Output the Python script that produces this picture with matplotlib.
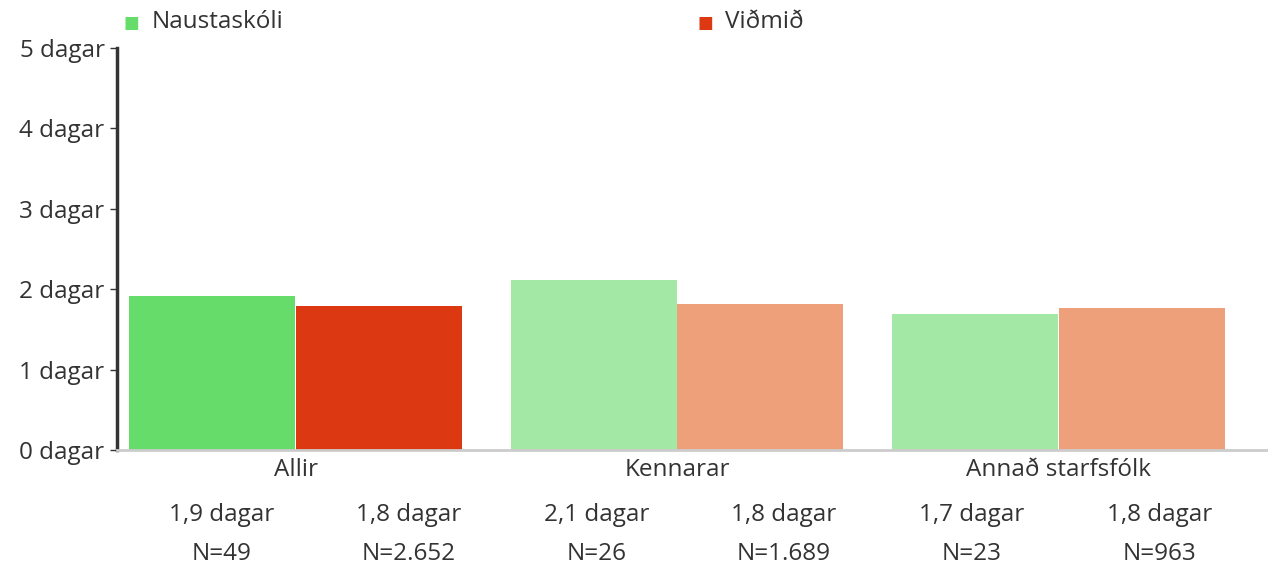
import numpy as np
import matplotlib.pyplot as plt

categories = ["Allir", "Kennarar", "Annað starfsfólk"]
series = ["Naustaskóli", "Viðmið"]
school = [1.92, 2.11, 1.69]
benchmark = [1.79, 1.82, 1.77]
school_lbl = ["1,9 dagar", "2,1 dagar", "1,7 dagar"]
bench_lbl = ["1,8 dagar", "1,8 dagar", "1,8 dagar"]
school_n = ["N=49", "N=26", "N=23"]
bench_n = ["N=2.652", "N=1.689", "N=963"]

school_cols = ["#66dd6a", "#a3e8a5", "#a3e8a5"]
bench_cols = ["#dc3912", "#eda07a", "#eda07a"]
txt = "#333333"
fs = 17.5

plt.rcParams['font.family'] = ['Open Sans', 'DejaVu Sans']

fig = plt.figure(figsize=(12.68, 5.67), dpi=100)
ax = fig.add_axes([117/1268, 117/567, 1 - 117/1268, (450-48)/567])

x = np.arange(len(categories))
w = 0.435
ax.bar(x - w/2 - 0.001, school, w, color=school_cols, linewidth=0)
ax.bar(x + w/2 + 0.001, benchmark, w, color=bench_cols, linewidth=0)

ax.set_xlim(-0.468, 2.549)
ax.set_ylim(0, 5)
ax.set_yticks(range(6))
ax.set_yticklabels([f"{i} dagar" for i in range(6)], fontsize=fs, color=txt)
ax.tick_params(axis='y', length=5, width=1, color=txt, pad=4)
ax.set_xticks([])

for s in ['top', 'right']:
    ax.spines[s].set_visible(False)
ax.spines['left'].set_color(txt)
ax.spines['left'].set_linewidth(2.5)
ax.spines['bottom'].set_color("#cccccc")
ax.spines['bottom'].set_linewidth(2)

# table under the axis: six evenly spaced columns
tr = ax.get_xaxis_transform()
col_x = -0.195 + 0.4918 * np.arange(6)
vals = [v for pair in zip(school_lbl, bench_lbl) for v in pair]
ns = [v for pair in zip(school_n, bench_n) for v in pair]
for i, c in enumerate(categories):
    ax.text(x[i], -0.05, c, transform=tr, ha='center', va='center', fontsize=fs, color=txt)
for k in range(6):
    ax.text(col_x[k], -0.162, vals[k], transform=tr, ha='center', va='center', fontsize=fs, color=txt)
    ax.text(col_x[k], -0.258, ns[k], transform=tr, ha='center', va='center', fontsize=fs, color=txt)

# legend
fig.text(131/1268, 1 - 23/567, "■", color=school_cols[0], fontsize=12, ha='center', va='center', family='DejaVu Sans')
fig.text(152/1268, 1 - 22/567, series[0], color=txt, fontsize=fs, ha='left', va='center')
fig.text(705/1268, 1 - 23/567, "■", color=bench_cols[0], fontsize=12, ha='center', va='center', family='DejaVu Sans')
fig.text(725/1268, 1 - 22/567, series[1], color=txt, fontsize=fs, ha='left', va='center')

fig.savefig("out.png", dpi=100)
